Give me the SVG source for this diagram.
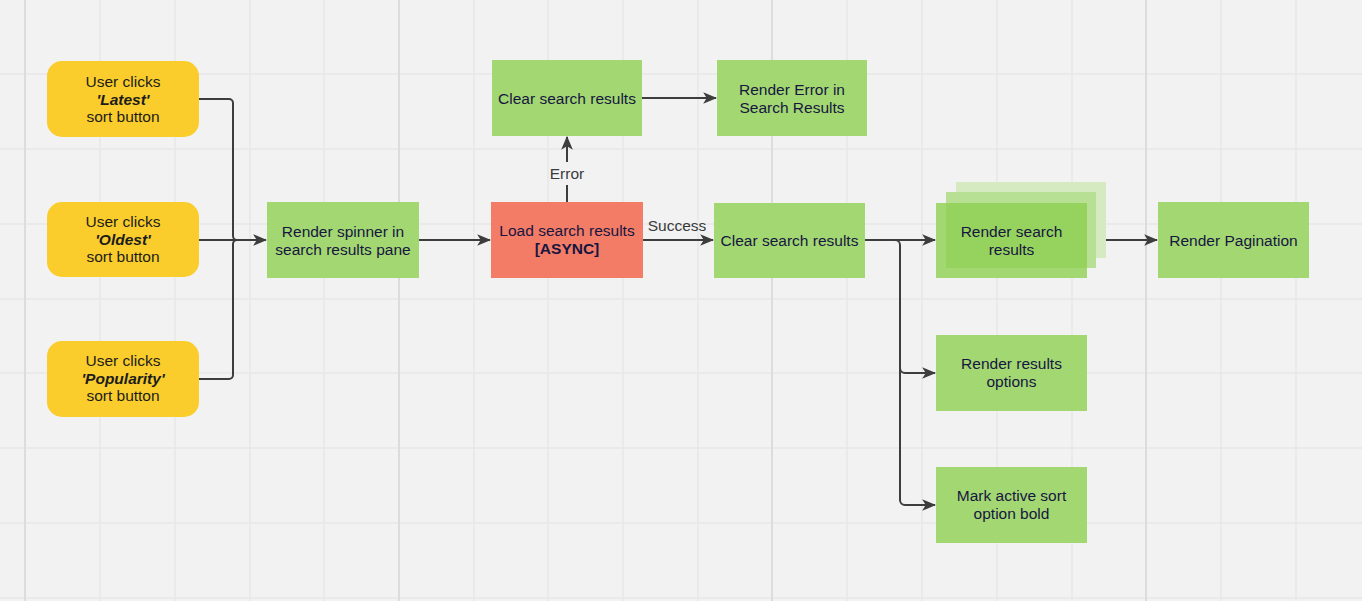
<svg xmlns="http://www.w3.org/2000/svg" width="1362" height="601" viewBox="0 0 1362 601">
<defs>
<style>
.grid{stroke:#e7e7e7;stroke-width:1.5}
.major{stroke:#dcdcdc;stroke-width:2}
.yel{fill:#facd2c}
.grn{fill:#a3d772}
.red{fill:#f37c66}
.t{font-family:"Liberation Sans",Arial,sans-serif;font-size:15.5px;text-anchor:middle;fill:#161640}
.ty{font-family:"Liberation Sans",Arial,sans-serif;font-size:15.5px;text-anchor:middle;fill:#1c1c1c}
.lbl{font-family:"Liberation Sans",Arial,sans-serif;font-size:15.5px;text-anchor:middle;fill:#3a3a3a}
.c{fill:none;stroke:#3d3d3d;stroke-width:2}
</style>
<marker id="ah" viewBox="0 0 12 12" refX="11" refY="6" markerWidth="14" markerHeight="14" markerUnits="userSpaceOnUse" orient="auto">
<path d="M0,1 L12,6 L0,11 L3,6 Z" fill="#3d3d3d"/>
</marker>
</defs>
<rect width="1362" height="601" fill="#f2f2f2"/>
<g id="grid">
<path class="grid" d="M100,0V601M175,0V601M250,0V601M324,0V601M474,0V601M548,0V601M623,0V601M698,0V601M847,0V601M922,0V601M997,0V601M1072,0V601M1221,0V601M1296,0V601M0,74H1362M0,149H1362M0,224H1362M0,299H1362M0,373H1362M0,448H1362M0,523H1362M0,598H1362"/>
<path class="major" d="M25,0V601M399,0V601M772,0V601M1146,0V601"/>
</g>
<g id="connectors">
<path class="c" d="M199,99H229a4,4 0 0 1 4,4V236a4,4 0 0 0 4,4"/>
<path class="c" d="M199,379H229a4,4 0 0 0 4,-4V244a4,4 0 0 1 4,-4"/>
<path class="c" d="M199,240H266" marker-end="url(#ah)"/>
<path class="c" d="M419,240H490" marker-end="url(#ah)"/>
<path class="c" d="M643,240H713" marker-end="url(#ah)"/>
<text class="lbl" x="677" y="231">Success</text>
<path class="c" d="M567,202V185"/>
<path class="c" d="M567,162V137" marker-end="url(#ah)"/>
<text class="lbl" x="567" y="179">Error</text>
<path class="c" d="M642,98H716" marker-end="url(#ah)"/>
<path class="c" d="M865,240H935" marker-end="url(#ah)"/>
<path class="c" d="M895,240a5,5 0 0 1 5,5V368a5,5 0 0 0 5,5H935" marker-end="url(#ah)"/>
<path class="c" d="M900,368V500a5,5 0 0 0 5,5H935" marker-end="url(#ah)"/>
<path class="c" d="M1087,240H1157" marker-end="url(#ah)"/>
</g>
<g id="n-latest">
<rect class="yel" x="47" y="61" width="152" height="76" rx="15"/>
<text class="ty" x="123" y="87">User clicks</text>
<text class="ty" x="123" y="104.5" font-weight="bold" font-style="italic">'Latest'</text>
<text class="ty" x="123" y="122">sort button</text>
</g>
<g id="n-oldest">
<rect class="yel" x="47" y="202" width="152" height="75" rx="15"/>
<text class="ty" x="123" y="227">User clicks</text>
<text class="ty" x="123" y="244.5" font-weight="bold" font-style="italic">'Oldest'</text>
<text class="ty" x="123" y="262">sort button</text>
</g>
<g id="n-popularity">
<rect class="yel" x="47" y="341" width="152" height="76" rx="15"/>
<text class="ty" x="123" y="366">User clicks</text>
<text class="ty" x="123" y="383.5" font-weight="bold" font-style="italic">'Popularity'</text>
<text class="ty" x="123" y="401">sort button</text>
</g>
<g id="n-spinner">
<rect class="grn" x="267" y="202" width="152" height="76"/>
<text class="t" x="343" y="237">Render spinner in</text>
<text class="t" x="343" y="254.5">search results pane</text>
</g>
<g id="n-load">
<rect class="red" x="491" y="202" width="152" height="76"/>
<text class="t" x="567" y="236">Load search results</text>
<text class="t" x="567" y="253.5" font-weight="bold">[ASYNC]</text>
</g>
<g id="n-clear-top">
<rect class="grn" x="492" y="60" width="150" height="76"/>
<text class="t" x="567" y="103.5">Clear search results</text>
</g>
<g id="n-error">
<rect class="grn" x="717" y="60" width="150" height="76"/>
<text class="t" x="792" y="95">Render Error in</text>
<text class="t" x="792" y="112.5">Search Results</text>
</g>
<g id="n-clear-mid">
<rect class="grn" x="714" y="203" width="151" height="75"/>
<text class="t" x="789.5" y="246">Clear search results</text>
</g>
<g id="n-render-results">
<rect x="956" y="182" width="150" height="76" fill="#d5eac1"/>
<rect x="946" y="192" width="150" height="76" fill="#b8e094"/>
<rect x="936" y="203" width="151" height="75" fill="#a3d772"/>
<rect x="946" y="203" width="141" height="65" fill="#96d35e"/>
<text class="t" x="1011.5" y="237">Render search</text>
<text class="t" x="1011.5" y="254.5">results</text>
</g>
<g id="n-pagination">
<rect class="grn" x="1158" y="202" width="151" height="76"/>
<text class="t" x="1233.5" y="245.5">Render Pagination</text>
</g>
<g id="n-options">
<rect class="grn" x="936" y="335" width="151" height="76"/>
<text class="t" x="1011.5" y="369">Render results</text>
<text class="t" x="1011.5" y="386.5">options</text>
</g>
<g id="n-bold">
<rect class="grn" x="936" y="467" width="151" height="76"/>
<text class="t" x="1011.5" y="501">Mark active sort</text>
<text class="t" x="1011.5" y="518.5">option bold</text>
</g>
</svg>
